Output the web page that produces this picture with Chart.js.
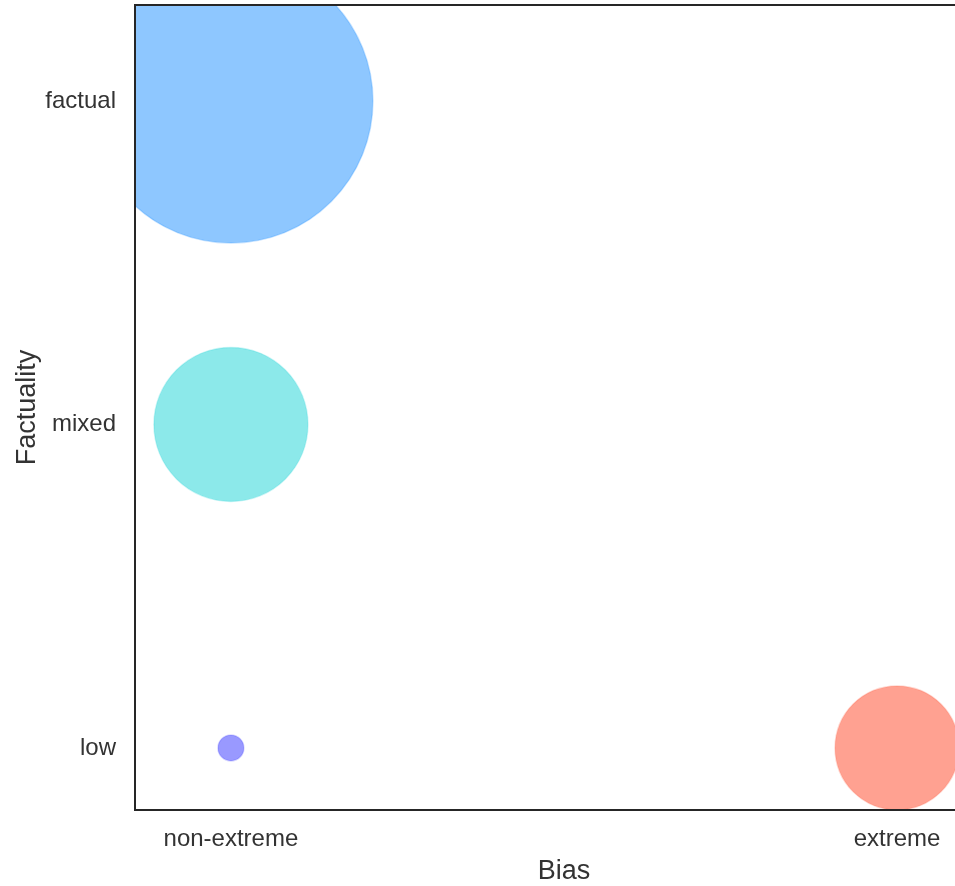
<!DOCTYPE html>
<html>
<head>
<meta charset="utf-8">
<script src="https://cdn.jsdelivr.net/npm/chart.js@4"></script>
<style>
  html, body { margin: 0; padding: 0; background: #fff; overflow: hidden; }
  #box { width: 1000px; height: 886px; }
</style>
</head>
<body>
<div id="box"><canvas id="bubble-chart" width="1000" height="886"></canvas></div>
<script>
// categories / tick labels
const biasLabels = ["non-extreme", "extreme"];
const factLabels = ["low", "mixed", "factual"];

// one bubble per group: bias index, factuality index, radius (px)
const groupNames = ["factual / non-extreme", "mixed / non-extreme", "low / non-extreme", "low / extreme"];
const biasIdx = [0, 0, 0, 1];
const factIdx = [2, 1, 0, 0];
const radii = [142, 77, 13, 62];
const fills = ["rgba(30,144,255,0.5)", "rgba(0,206,209,0.45)", "rgba(0,0,255,0.4)", "rgba(255,99,71,0.6)"];
const edges = ["rgba(30,144,255,0.25)", "rgba(0,206,209,0.2)", "rgba(0,0,255,0.15)", "rgba(255,99,71,0.25)"];

const textColor = "#333333";

// bubbles get clipped at the frame, so no extra room is kept for them
Chart.registry.getController("bubble").prototype.getMaxOverflow = function(){ return 0; };

// draws the full frame round the plot area
const frame = {
    id: "frame",
    afterDraw(chart){
        const a = chart.chartArea;
        const ctx = chart.ctx;
        ctx.save();
        ctx.strokeStyle = "#262626";
        ctx.lineWidth = 2;
        ctx.strokeRect(a.left, a.top, a.right - a.left, a.bottom - a.top);
        ctx.restore();
    }
};

let datasets = groupNames.map((name, i) => ({
    label: name,
    data: [{ x: biasIdx[i], y: factIdx[i], r: radii[i] }],
    backgroundColor: fills[i],
    borderColor: edges[i],
    borderWidth: 1.5,
    clip: 0
}));

new Chart(document.querySelector("#bubble-chart"), {
    type: "bubble",
    data: { datasets: datasets },
    plugins: [frame],
    options: {
        responsive: false,
        animation: false,
        layout: { padding: { top: 5, left: 0, right: 7, bottom: 0 } },
        plugins: { legend: { display: false }, tooltip: { enabled: false } },
        scales: {
            x: {
                type: "linear",
                min: -0.144,
                max: 1.144,
                afterFit: s => { s.height = 76; s.paddingLeft = 0; s.paddingRight = 0; },
                afterBuildTicks: s => { s.ticks = biasLabels.map((l, i) => ({ value: i })); },
                ticks: {
                    padding: 15,
                    color: textColor,
                    font: { family: "Liberation Sans, Arial", size: 24 },
                    callback: v => biasLabels[v]
                },
                grid: { display: false, drawTicks: false },
                border: { display: false },
                title: {
                    display: true,
                    text: "Bias",
                    color: textColor,
                    font: { family: "Liberation Sans, Arial", size: 27, lineHeight: 1.1 },
                    padding: { top: 0, bottom: 0 }
                }
            },
            y: {
                type: "linear",
                min: -0.192,
                max: 2.297,
                afterFit: s => { s.width = 135; s.paddingTop = 0; s.paddingBottom = 0; },
                afterBuildTicks: s => { s.ticks = factLabels.map((l, i) => ({ value: i })); },
                ticks: {
                    padding: 19,
                    color: textColor,
                    font: { family: "Liberation Sans, Arial", size: 24 },
                    callback: v => factLabels[v]
                },
                grid: { display: false, drawTicks: false },
                border: { display: false },
                title: {
                    display: true,
                    text: "Factuality",
                    color: textColor,
                    font: { family: "Liberation Sans, Arial", size: 27 },
                    padding: { top: 11, bottom: 0 }
                }
            }
        }
    }
});
</script>
</body>
</html>
